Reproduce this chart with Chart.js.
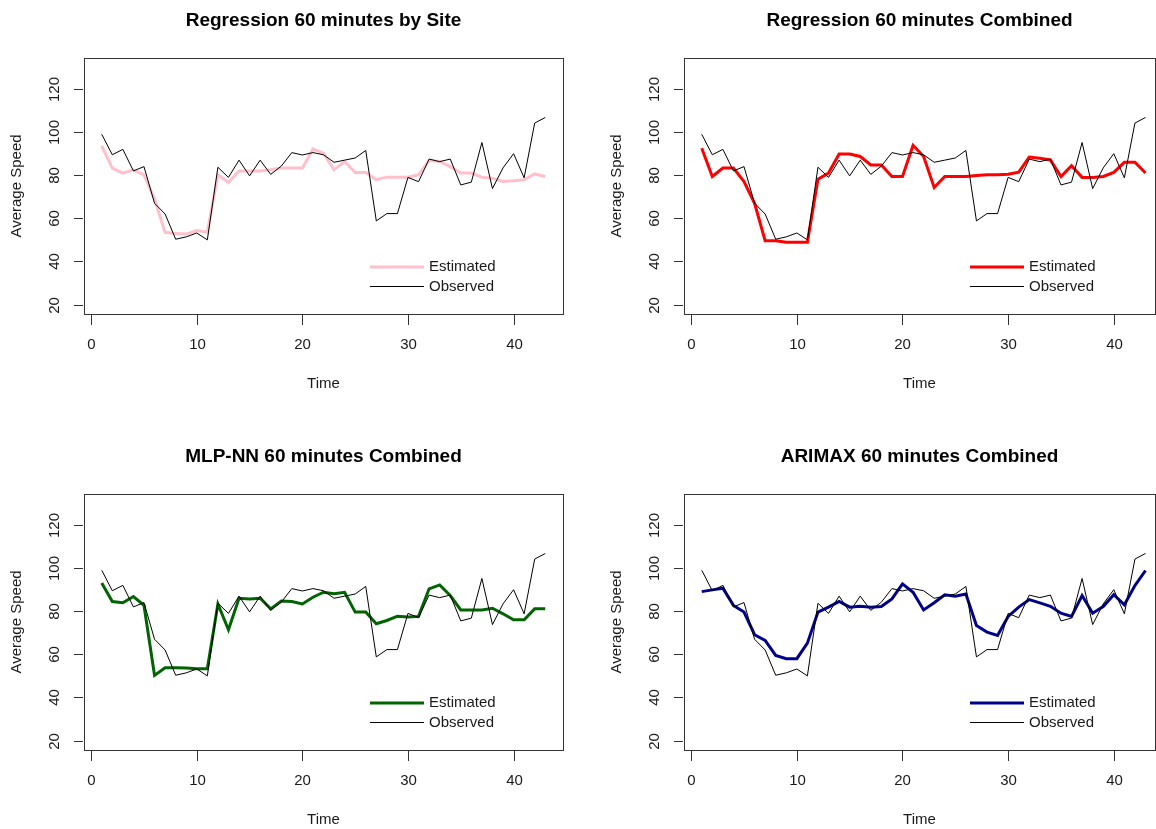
<!DOCTYPE html>
<html lang="en">
<head>
<meta charset="UTF-8">
<title>Average Speed 60 minutes</title>
<script src="https://cdn.jsdelivr.net/npm/chart.js"></script>
<style>
    body {
        margin: 0;
        width: 1156px;
        height: 829px;
        overflow: hidden;
        position: relative;
        background: #ffffff;
    }
    .panel {
        position: absolute;
        width: 600px;
        height: 436px;
    }
</style>
</head>
<body>
<div class="panel" style="left:0;top:0"><canvas id="c1" width="600" height="436"></canvas></div>
<div class="panel" style="left:600px;top:0"><canvas id="c2" width="600" height="436"></canvas></div>
<div class="panel" style="left:0;top:436px"><canvas id="c3" width="600" height="436"></canvas></div>
<div class="panel" style="left:600px;top:436px"><canvas id="c4" width="600" height="436"></canvas></div>

<script>
// time index (x) and tick labels
const time = [1, 2, 3, 4, 5, 6, 7, 8, 9, 10, 11, 12, 13, 14, 15, 16, 17, 18, 19, 20, 21, 22,
              23, 24, 25, 26, 27, 28, 29, 30, 31, 32, 33, 34, 35, 36, 37, 38, 39, 40, 41, 42, 43];
const xTicks = [0, 10, 20, 30, 40];
const yTicks = [20, 40, 60, 80, 100, 120];

// observed average speed (same in all four panels)
const observed = [99, 89.5, 92, 82, 84, 67, 62, 50.3, 51.4, 53.2, 50, 83.7, 79, 87, 79.7, 87, 80.4, 84.2,
                  90.5, 89.4, 90.5, 89.5, 86, 87, 88, 91.5, 58.8, 62.2, 62.2, 79, 77, 87.5, 86.3, 87.5,
                  75.5, 76.8, 95.2, 73.8, 83.4, 90, 78.8, 104.2, 106.8];

// estimated series
const regSite = [93.6, 83.3, 81, 82.5, 80.2, 69, 53.5, 52.9, 52.7, 54.3, 53.6, 80.2, 76.6, 82, 82, 82,
                 82.5, 83.3, 83.3, 83.3, 92.2, 90.2, 82.5, 86.4, 81.3, 81.3, 77.9, 79.1, 79.1, 79.1,
                 80.2, 86.8, 86.4, 84, 81, 81, 79.1, 78.6, 77.1, 77.4, 77.9, 80.6, 79.4];
const regCombined = [92.5, 79.4, 83.3, 83.3, 77.1, 67, 49.6, 49.6, 48.9, 48.9, 48.9, 78.2, 81, 89.8, 89.8,
                     88.7, 84.8, 84.8, 79.4, 79.4, 93.9, 88.7, 74.3, 79.4, 79.4, 79.4, 79.9, 80.2, 80.2,
                     80.5, 81.4, 88.4, 87.9, 87.1, 79.4, 84.4, 79, 79, 79.4, 81.3, 86, 86, 81];
const mlpCombined = [93.1, 84.5, 83.9, 86.8, 82.7, 50.2, 53.8, 53.8, 53.6, 53.3, 53.3, 83.4, 71.4, 86, 85.7,
                     86, 81.1, 84.7, 84.5, 83.4, 86.5, 88.8, 88.1, 88.8, 79.6, 79.6, 74.2, 75.7, 77.7,
                     77.3, 77.6, 90.4, 92.2, 87.3, 80.6, 80.6, 80.6, 81.4, 78.8, 76, 76, 81.1, 81.1];
const arimaxCombined = [89.1, 89.9, 90.7, 82.7, 79.6, 69.1, 66.5, 59.5, 58, 58, 65.2, 79.6, 81.9, 84.5, 81.9,
                        82.3, 81.9, 82.2, 85.7, 92.7, 88.8, 80.6, 83.9, 87.6, 87, 88, 73.4, 70.3, 68.8,
                        77.6, 81.9, 85.4, 83.9, 82.3, 79.1, 77.6, 87.3, 79.1, 82.2, 87.7, 83, 91.9, 98.9];

const FONT = '"Liberation Sans", Arial, sans-serif';

// R-like box, tick marks, tick labels and legend
const rStyle = {
    id: 'rStyle',
    afterDatasetsDraw(chart) {
        const {ctx, chartArea: a, scales: {x, y}} = chart;
        ctx.save();
        ctx.strokeStyle = '#333333';
        ctx.lineWidth = 1;
        ctx.strokeRect(Math.round(a.left) + 0.5, Math.round(a.top) + 0.5,
                       Math.round(a.right - a.left), Math.round(a.bottom - a.top));

        ctx.fillStyle = '#1a1a1a';
        ctx.font = '15px ' + FONT;
        ctx.textAlign = 'center';
        ctx.textBaseline = 'middle';
        ctx.beginPath();
        x.ticks.forEach(t => {
            const px = Math.round(x.getPixelForValue(t.value)) + 0.5;
            ctx.moveTo(px, a.bottom + 1);
            ctx.lineTo(px, a.bottom + 11);
            ctx.fillText(String(t.value), px, a.bottom + 31);
        });
        y.ticks.forEach(t => {
            const py = Math.round(y.getPixelForValue(t.value)) + 0.5;
            ctx.moveTo(a.left - 1, py);
            ctx.lineTo(a.left - 10, py);
            ctx.save();
            ctx.translate(a.left - 29, py);
            ctx.rotate(-Math.PI / 2);
            ctx.fillText(String(t.value), 0, 0);
            ctx.restore();
        });
        ctx.stroke();

        // legend, no box
        const rows = chart.data.datasets.slice().reverse();
        const lx = a.left + 286;
        ctx.textAlign = 'left';
        rows.forEach((ds, i) => {
            const ly = a.bottom - 47 + i * 19.5;
            ctx.strokeStyle = ds.borderColor;
            ctx.lineWidth = ds.borderWidth;
            ctx.beginPath();
            ctx.moveTo(lx, ly);
            ctx.lineTo(lx + 54, ly);
            ctx.stroke();
            ctx.fillText(ds.label, lx + 59, ly);
        });
        ctx.restore();
    }
};

const panels = [
    {id: 'c1', title: 'Regression 60 minutes by Site', est: regSite, color: '#FFC0CB', xMax: 44.68, right: 37},
    {id: 'c2', title: 'Regression 60 minutes Combined', est: regCombined, color: '#FF0000', xMax: 43.9, right: 45},
    {id: 'c3', title: 'MLP-NN 60 minutes Combined', est: mlpCombined, color: '#006400', xMax: 44.68, right: 37},
    {id: 'c4', title: 'ARIMAX 60 minutes Combined', est: arimaxCombined, color: '#00008B', xMax: 43.9, right: 45}
];

panels.forEach(p => {
    const ctx = document.getElementById(p.id).getContext('2d');
    new Chart(ctx, {
        type: 'line',
        data: {
            datasets: [
                {
                    label: 'Observed',
                    data: time.map((t, i) => ({x: t, y: observed[i]})),
                    borderColor: '#000000',
                    borderWidth: 1,
                    pointRadius: 0,
                    tension: 0
                },
                {
                    label: 'Estimated',
                    data: time.map((t, i) => ({x: t, y: p.est[i]})),
                    borderColor: p.color,
                    borderWidth: 3,
                    pointRadius: 0,
                    tension: 0
                }
            ]
        },
        options: {
            responsive: false,
            animation: false,
            layout: {padding: {left: 0, top: 0, bottom: 0, right: p.right}},
            plugins: {
                legend: {display: false},
                tooltip: {enabled: false},
                title: {
                    display: true,
                    text: p.title,
                    fullSize: false,
                    color: '#000000',
                    font: {family: FONT, size: 19, weight: 'bold'},
                    padding: {top: 9, bottom: 26.2}
                }
            },
            scales: {
                x: {
                    type: 'linear',
                    min: -0.68,
                    max: p.xMax,
                    afterBuildTicks: s => { s.ticks = xTicks.map(v => ({value: v})); },
                    afterFit: s => { s.height = 122; },
                    ticks: {display: false},
                    grid: {display: false},
                    border: {display: false},
                    title: {
                        display: true,
                        text: 'Time',
                        color: '#1a1a1a',
                        font: {family: FONT, size: 15},
                        padding: {top: 0, bottom: 43}
                    }
                },
                y: {
                    min: 15.6,
                    max: 134.4,
                    afterBuildTicks: s => { s.ticks = yTicks.map(v => ({value: v})); },
                    afterFit: s => { s.width = 84; },
                    ticks: {display: false},
                    grid: {display: false},
                    border: {display: false},
                    title: {
                        display: true,
                        text: 'Average Speed',
                        color: '#1a1a1a',
                        font: {family: FONT, size: 15},
                        padding: {top: 8, bottom: 0}
                    }
                }
            }
        },
        plugins: [rStyle]
    });
});
</script>
</body>
</html>
